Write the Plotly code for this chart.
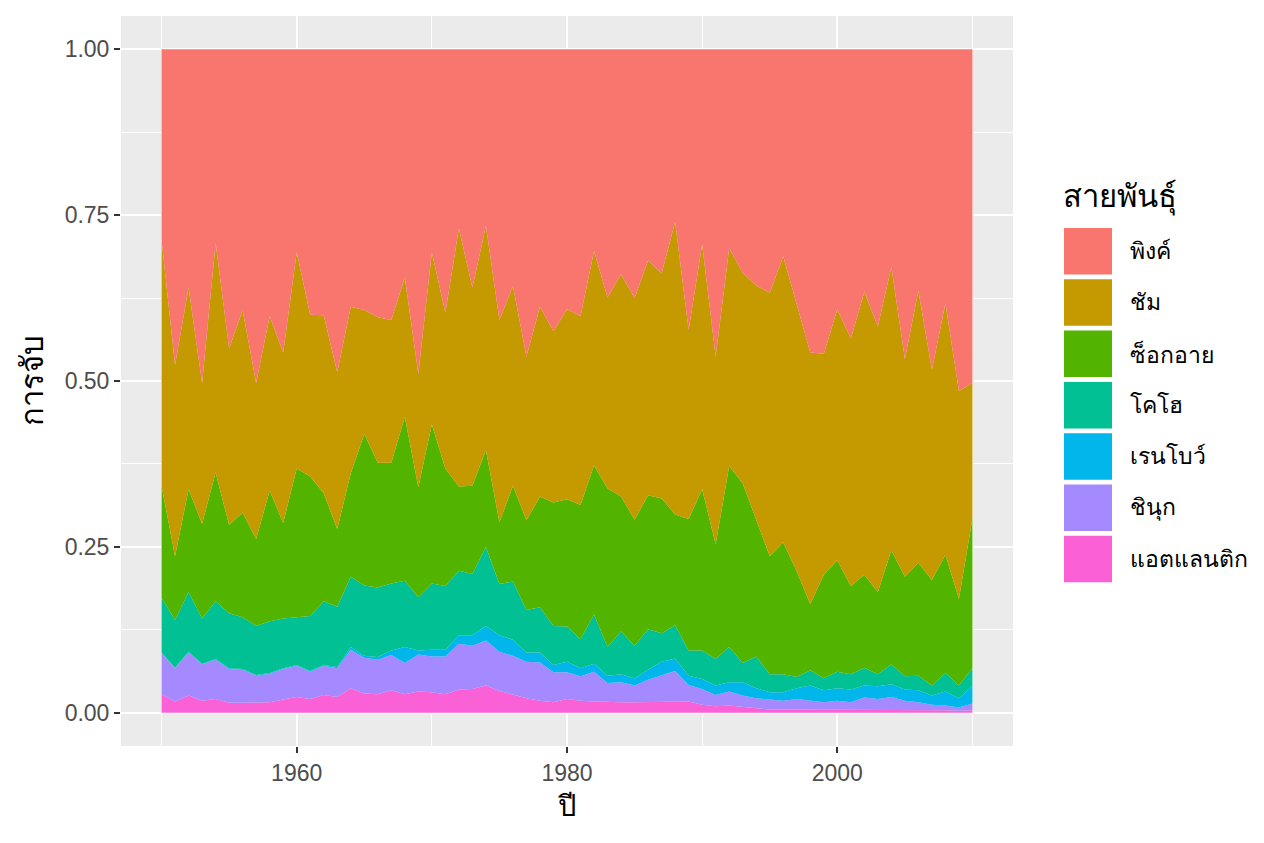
import plotly.graph_objects as go

# proportion of catch by species
years = list(range(1950, 2011))

atlantic = [0.028, 0.017, 0.026, 0.018, 0.021, 0.015, 0.015, 0.016, 0.016, 0.020,
            0.024, 0.021, 0.027, 0.024, 0.037, 0.029, 0.028, 0.034, 0.028, 0.032,
            0.031, 0.028, 0.035, 0.036, 0.041, 0.033, 0.027, 0.022, 0.018, 0.016,
            0.021, 0.018, 0.017, 0.016, 0.016, 0.016, 0.016, 0.016, 0.016, 0.017,
            0.012, 0.010, 0.011, 0.009, 0.007, 0.005, 0.005, 0.005, 0.005, 0.004,
            0.005, 0.004, 0.005, 0.005, 0.005, 0.004, 0.004, 0.004, 0.004, 0.003,
            0.004]
chinook = [0.062, 0.050, 0.065, 0.055, 0.059, 0.051, 0.050, 0.040, 0.043, 0.046,
           0.047, 0.041, 0.044, 0.043, 0.058, 0.054, 0.052, 0.053, 0.047, 0.056,
           0.054, 0.057, 0.069, 0.065, 0.068, 0.059, 0.059, 0.055, 0.058, 0.045,
           0.040, 0.037, 0.045, 0.029, 0.030, 0.025, 0.034, 0.041, 0.047, 0.025,
           0.024, 0.017, 0.021, 0.017, 0.015, 0.015, 0.013, 0.016, 0.013, 0.012,
           0.013, 0.012, 0.018, 0.016, 0.019, 0.014, 0.012, 0.008, 0.007, 0.005,
           0.010]
rainbow = [0.001, 0.001, 0.001, 0.001, 0.001, 0.001, 0.001, 0.001, 0.001, 0.001,
           0.001, 0.001, 0.001, 0.002, 0.004, 0.003, 0.004, 0.007, 0.024, 0.006,
           0.010, 0.010, 0.013, 0.016, 0.022, 0.025, 0.024, 0.014, 0.015, 0.011,
           0.016, 0.012, 0.012, 0.011, 0.012, 0.011, 0.015, 0.020, 0.019, 0.014,
           0.015, 0.014, 0.014, 0.020, 0.015, 0.011, 0.013, 0.016, 0.023, 0.018,
           0.019, 0.019, 0.018, 0.019, 0.019, 0.017, 0.018, 0.014, 0.021, 0.014,
           0.026]
coho = [0.082, 0.072, 0.090, 0.068, 0.087, 0.083, 0.078, 0.074, 0.078, 0.075,
        0.072, 0.083, 0.096, 0.091, 0.106, 0.106, 0.105, 0.101, 0.100, 0.080,
        0.100, 0.096, 0.097, 0.092, 0.119, 0.077, 0.088, 0.064, 0.068, 0.059,
        0.053, 0.044, 0.074, 0.043, 0.065, 0.049, 0.061, 0.043, 0.050, 0.038,
        0.043, 0.040, 0.053, 0.029, 0.048, 0.027, 0.027, 0.017, 0.023, 0.018,
        0.025, 0.023, 0.027, 0.018, 0.030, 0.020, 0.022, 0.015, 0.028, 0.019,
        0.027]
sockeye = [0.169, 0.096, 0.155, 0.143, 0.194, 0.133, 0.158, 0.131, 0.197, 0.144,
           0.224, 0.210, 0.163, 0.117, 0.156, 0.228, 0.188, 0.182, 0.247, 0.166,
           0.240, 0.177, 0.127, 0.133, 0.146, 0.093, 0.144, 0.135, 0.167, 0.186,
           0.192, 0.202, 0.225, 0.239, 0.203, 0.190, 0.202, 0.203, 0.167, 0.198,
           0.243, 0.173, 0.273, 0.271, 0.206, 0.178, 0.199, 0.159, 0.100, 0.156,
           0.168, 0.133, 0.140, 0.124, 0.172, 0.150, 0.170, 0.159, 0.178, 0.131,
           0.226]
chum = [0.371, 0.288, 0.304, 0.212, 0.346, 0.266, 0.305, 0.235, 0.263, 0.257,
        0.326, 0.244, 0.268, 0.236, 0.251, 0.187, 0.219, 0.215, 0.210, 0.171,
        0.259, 0.235, 0.389, 0.299, 0.338, 0.305, 0.301, 0.247, 0.286, 0.258,
        0.286, 0.285, 0.323, 0.288, 0.335, 0.334, 0.354, 0.339, 0.441, 0.285,
        0.369, 0.283, 0.328, 0.317, 0.353, 0.397, 0.431, 0.404, 0.379, 0.333,
        0.378, 0.373, 0.426, 0.400, 0.427, 0.328, 0.410, 0.317, 0.379, 0.313,
        0.204]
pink = [0.287, 0.476, 0.359, 0.503, 0.292, 0.451, 0.393, 0.503, 0.402, 0.457,
        0.306, 0.400, 0.401, 0.487, 0.388, 0.393, 0.404, 0.408, 0.344, 0.489,
        0.306, 0.397, 0.270, 0.359, 0.266, 0.408, 0.357, 0.463, 0.388, 0.425,
        0.392, 0.402, 0.304, 0.374, 0.339, 0.375, 0.318, 0.338, 0.260, 0.423,
        0.294, 0.463, 0.300, 0.337, 0.356, 0.367, 0.312, 0.383, 0.457, 0.459,
        0.392, 0.436, 0.366, 0.418, 0.328, 0.467, 0.364, 0.483, 0.383, 0.515,
        0.503]

# bottom of the stack first
species = ["แอตแลนติก", "ชินุก", "เรนโบว์", "โคโฮ", "ซ็อกอาย", "ชัม", "พิงค์"]
series = [atlantic, chinook, rainbow, coho, sockeye, chum, pink]
colours = ["#FB61D7", "#A58AFF", "#00B6EB", "#00C094", "#53B400", "#C49A00", "#F8766D"]

FONT = "Liberation Sans, Noto Sans, sans-serif"
# page has an 8px body margin, so the figure is 16px smaller than the window
PAD = 8
W, H = 1264 - 2 * PAD, 843 - 2 * PAD
L, T = 121 - PAD, 16 - PAD
R = W + PAD - 1013
B = H + PAD - 746

def px2x(px):
    return (px - PAD - L) / (W - L - R)

def py2y(py):
    return (H - B - (py - PAD)) / (H - T - B)

fig = go.Figure()
for i, (name, vals, col) in enumerate(zip(species, series, colours)):
    fig.add_trace(go.Scatter(
        x=years, y=vals, name=name, mode="lines",
        line=dict(width=0, color=col), fillcolor=col,
        stackgroup="catch", groupnorm="fraction" if i == 0 else None,
        showlegend=False, hoverinfo="x+y+name"))

# ggplot style legend drawn by hand (top entry = top of stack)
shapes = []
annos = []
annos.append(dict(x=px2x(1061), y=py2y(197), xref="paper", yref="paper",
                  text="สายพันธุ์", showarrow=False, xanchor="left", yanchor="middle",
                  font=dict(family=FONT, size=31, color="black")))
for k, (name, col) in enumerate(zip(species[::-1], colours[::-1])):
    top = 228 + 51.3 * k
    shapes.append(dict(type="rect", xref="paper", yref="paper",
                       x0=px2x(1064), x1=px2x(1112), y0=py2y(top + 46.5), y1=py2y(top),
                       fillcolor=col, line=dict(width=0)))
    annos.append(dict(x=px2x(1128), y=py2y(top + 23), xref="paper", yref="paper",
                      text=name, showarrow=False, xanchor="left", yanchor="middle",
                      font=dict(family=FONT, size=23, color="black")))

fig.update_layout(
    width=W, height=H,
    margin=dict(l=L, r=R, t=T, b=B),
    paper_bgcolor="white", plot_bgcolor="#EBEBEB",
    font=dict(family=FONT),
    shapes=shapes, annotations=annos,
    xaxis=dict(range=[1947, 2013], tick0=1960, dtick=20, showgrid=True,
               gridcolor="white", gridwidth=2.2, zeroline=False,
               ticks="outside", ticklen=6, tickwidth=2, tickcolor="#333333",
               tickfont=dict(size=23, color="#4D4D4D"),
               minor=dict(showgrid=True, gridcolor="white", gridwidth=1, tick0=1950, dtick=10),
               title=dict(text="ปี", font=dict(size=29, color="black"), standoff=11)),
    yaxis=dict(range=[-0.05, 1.05], tick0=0, dtick=0.25, tickformat=".2f",
               showgrid=True, gridcolor="white", gridwidth=2.2, zeroline=False,
               ticks="outside", ticklen=6, tickwidth=2, tickcolor="#333333",
               tickfont=dict(size=23, color="#4D4D4D"),
               minor=dict(showgrid=True, gridcolor="white", gridwidth=1, tick0=0, dtick=0.125),
               title=dict(text="การจับ", font=dict(size=31, color="black"), standoff=11)),
)

fig.write_html("out.html")
